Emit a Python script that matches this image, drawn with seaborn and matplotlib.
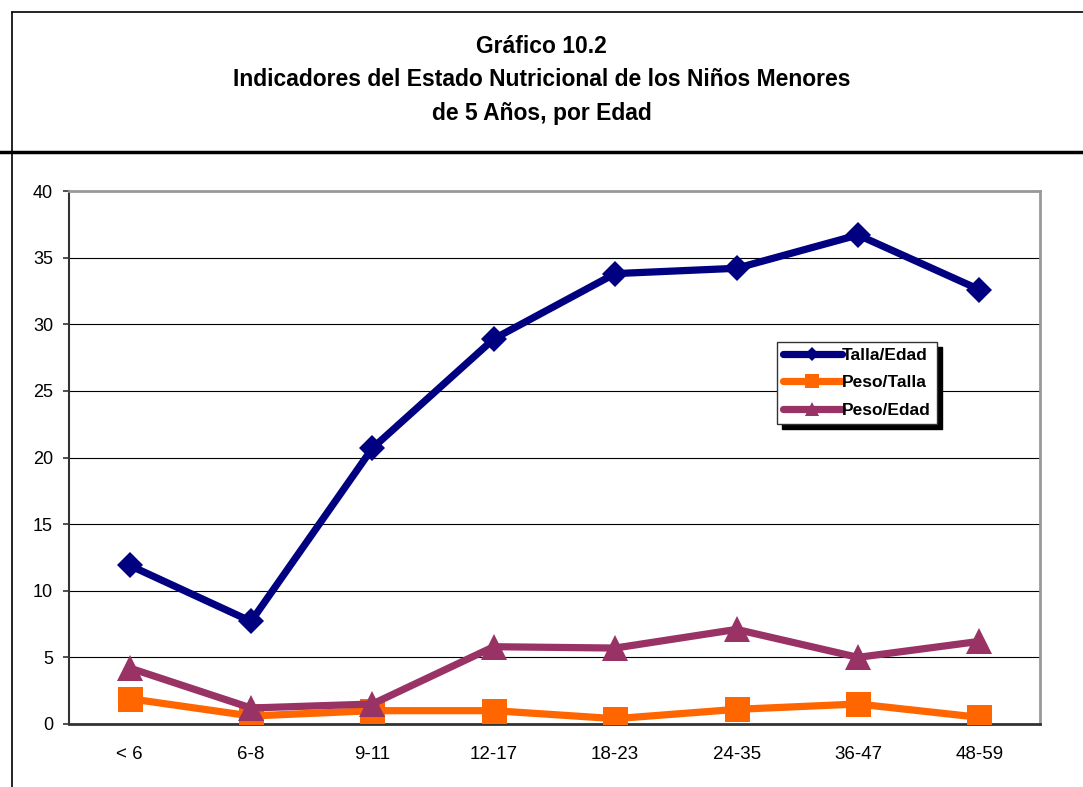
import pandas as pd
import numpy as np
import matplotlib
matplotlib.use("Agg")
import matplotlib.pyplot as plt
from matplotlib.lines import Line2D
import seaborn as sns

# Datos
edades = ["< 6", "6-8", "9-11", "12-17", "18-23", "24-35", "36-47", "48-59"]
talla_edad = [11.9, 7.7, 20.7, 28.9, 33.8, 34.2, 36.7, 32.6]
peso_talla = [1.9, 0.6, 1.0, 1.0, 0.4, 1.1, 1.5, 0.5]
peso_edad = [4.2, 1.2, 1.5, 5.8, 5.7, 7.1, 5.0, 6.2]
series = ["Talla/Edad", "Peso/Talla", "Peso/Edad"]
colores = {"Talla/Edad": "#000080", "Peso/Talla": "#FF6600", "Peso/Edad": "#993366"}
marcadores = {"Talla/Edad": "D", "Peso/Talla": "s", "Peso/Edad": "^"}
titulo = "Gráfico 10.2\nIndicadores del Estado Nutricional de los Niños Menores\nde 5 Años, por Edad"

df = pd.DataFrame({
    "Edad": edades * 3,
    "Serie": np.repeat(series, len(edades)),
    "Valor": talla_edad + peso_talla + peso_edad,
})
df["x"] = df["Edad"].map({e: i for i, e in enumerate(edades)})

sns.set_style("white")
plt.rcParams["font.family"] = ["Liberation Sans", "DejaVu Sans"]
plt.rcParams["text.color"] = "black"
plt.rcParams["xtick.labelcolor"] = "black"
plt.rcParams["ytick.labelcolor"] = "black"

fig = plt.figure(figsize=(10.83, 7.87), dpi=100)
ax = fig.add_axes([69 / 1083, 1 - 724 / 787, (1040 - 69) / 1083, (724 - 191) / 787])

msize = {"Talla/Edad": 13.5, "Peso/Talla": 18, "Peso/Edad": 19}
for s in series:
    sub = df[df["Serie"] == s]
    sns.lineplot(data=sub, x="x", y="Valor", ax=ax, color=colores[s], lw=5.2,
                 marker=marcadores[s], markersize=msize[s], markeredgewidth=0,
                 label=s, zorder=3)

ax.set_xlim(-0.5, len(edades) - 0.5)
ax.set_ylim(0, 40)
ax.set_yticks(range(0, 41, 5))
ax.set_xticks(range(len(edades)))
ax.set_xticklabels(edades)
ax.set_xticks(np.arange(-0.5, len(edades), 1), minor=True)
ax.tick_params(axis="x", which="major", length=0, pad=16, labelsize=13.5, labelcolor="black")
ax.tick_params(axis="x", which="minor", length=5, width=1.2, color="#333333", direction="out")
ax.tick_params(axis="y", length=4.5, width=1.2, color="#333333", labelsize=13, pad=7,
               left=True, labelcolor="black")
ax.set_xlabel("")
ax.set_ylabel("")
ax.grid(axis="y", color="black", lw=0.8)
ax.set_axisbelow(True)
for sp in ["top", "right"]:
    ax.spines[sp].set_color("#999999")
    ax.spines[sp].set_linewidth(2)
ax.spines["left"].set_color("#333333")
ax.spines["left"].set_linewidth(1.5)
ax.spines["bottom"].set_color("#333333")
ax.spines["bottom"].set_linewidth(2)

leg = ax.legend(loc="upper left", bbox_to_anchor=(0.729, 0.717), frameon=True,
                fancybox=False, shadow={"color": "black", "alpha": 1, "ox": 4, "oy": -4},
                prop={"weight": "bold", "size": 12.5}, handlelength=3.4,
                handletextpad=0.0, borderpad=0.35, labelspacing=0.7, markerscale=0.55,
                borderaxespad=0)
leg.get_frame().set_edgecolor("#333333")
leg.get_frame().set_linewidth(1)
for t in leg.get_texts():
    t.set_color("black")

fig.text(0.5, 1 - 80 / 787, titulo, ha="center", va="center", fontsize=16.5,
         fontweight="bold", linespacing=1.58, color="black")

# marco exterior
fig.add_artist(Line2D([12 / 1083, 12 / 1083], [0, 1 - 12 / 787], color="black", lw=1.2))
fig.add_artist(Line2D([12 / 1083, 1], [1 - 12 / 787, 1 - 12 / 787], color="black", lw=1.2))
fig.add_artist(Line2D([0, 1], [1 - 152 / 787, 1 - 152 / 787], color="black", lw=2.5))

fig.savefig("out.png", dpi=100)
